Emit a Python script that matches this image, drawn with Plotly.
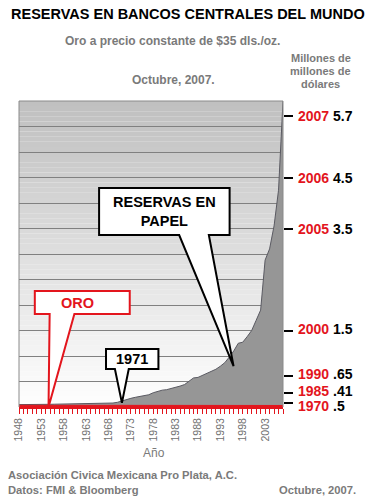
import plotly.graph_objects as go

# ---------------- data ----------------
years = list(range(1948, 2008))
reserves = [0.047, 0.046, 0.048, 0.049, 0.050, 0.051, 0.052, 0.053, 0.055, 0.056,
            0.057, 0.057, 0.059, 0.061, 0.063, 0.066, 0.068, 0.070, 0.071, 0.073,
            0.076, 0.078, 0.092, 0.12, 0.15, 0.17, 0.19, 0.21, 0.23, 0.24,
            0.28, 0.31, 0.33, 0.34, 0.36, 0.38, 0.41, 0.44, 0.51, 0.57,
            0.58, 0.62, 0.67, 0.70, 0.74, 0.80, 0.87, 0.98, 1.10, 1.25,
            1.27, 1.38, 1.50, 1.70, 1.90, 2.88, 3.10, 3.55, 4.25, 6.00]
gold = [0.034, 0.034, 0.035, 0.035, 0.035, 0.035, 0.036, 0.036, 0.036, 0.037,
        0.037, 0.037, 0.038, 0.038, 0.038, 0.038, 0.039, 0.039, 0.039, 0.039,
        0.039, 0.039, 0.037, 0.036, 0.036, 0.036, 0.036, 0.036, 0.036, 0.036,
        0.036, 0.035, 0.034, 0.034, 0.034, 0.034, 0.034, 0.034, 0.034, 0.034,
        0.034, 0.034, 0.034, 0.034, 0.034, 0.034, 0.034, 0.034, 0.034, 0.034,
        0.033, 0.033, 0.033, 0.032, 0.032, 0.031, 0.031, 0.030, 0.030, 0.030]

x_tick_labels = [str(y) for y in range(1948, 2004, 5)]

mark_years = ["2007", "2006", "2005", "2000", "1990", "1985", "1970"]
mark_values = ["5.7", "4.5", "3.5", "1.5", ".65", ".41", ".5"]
mark_pos = [5.7, 4.5, 3.5, 1.5, 0.60, 0.28, 0.08]      # tick positions (data units)
mark_label_px = [116, 178, 229, 329, 374, 391, 406]    # label centre rows (pixels)

RED = "#e3151d"
GRAY_TXT = "#7a7a7a"
FONT = "Arial, Liberation Sans, sans-serif"

W, H = 368, 503
L, R, T, B = 16, 283, 101, 407  # plot area in pixels


def px(xp):
    return (xp - L) / (R - L)


def py(yp):
    return (B - yp) / (B - T)


fig = go.Figure()

fig.add_trace(go.Scatter(
    x=years, y=reserves, mode="lines", fill="tozeroy",
    fillcolor="#969696", line=dict(color="#5a5a62", width=1),
    hoverinfo="skip", showlegend=False))
fig.add_trace(go.Scatter(
    x=years, y=gold, mode="lines", fill="tozeroy",
    fillcolor=RED, line=dict(color=RED, width=1),
    hoverinfo="skip", showlegend=False))
# invisible trace to carry the right-hand axis
fig.add_trace(go.Scatter(
    x=[years[-1]] * len(mark_pos), y=mark_pos, yaxis="y2", mode="markers",
    marker=dict(opacity=0), hoverinfo="skip", showlegend=False))

shapes = []
# background gradient (white bottom -> gray top)
n_bands = 60
ymax = 6.0
for i in range(n_bands):
    y0 = ymax * i / n_bands
    y1 = ymax * (i + 1) / n_bands
    t = (i + 0.5) / n_bands
    c = int(round(255 - t * 64))
    shapes.append(dict(type="rect", xref="paper", yref="y", x0=0, x1=1, y0=y0, y1=y1,
                       fillcolor=f"rgb({c},{c},{c})", line=dict(width=0), layer="below"))

# plot border (left, top, right)
shapes.append(dict(type="path", xref="paper", yref="paper",
                   path="M 0,0 L 0,1 L 1,1 L 1,0",
                   line=dict(color="#8a8a8a", width=1), layer="above"))


def dx(xp):
    return 1948 + (xp - L) * (2007 - 1948) / (R - L)


def dy(yp):
    return (B - yp) * ymax / (B - T)


def callout(x0p, x1p, y0p, y1p, bl, br, tip_x, tip_y, color):
    p = (f"M {dx(x0p)},{dy(y0p)} L {dx(x1p)},{dy(y0p)} L {dx(x1p)},{dy(y1p)} "
         f"L {dx(br)},{dy(y1p)} L {tip_x},{tip_y} L {dx(bl)},{dy(y1p)} "
         f"L {dx(x0p)},{dy(y1p)} Z")
    return dict(type="path", xref="x", yref="y", path=p, fillcolor="white",
                line=dict(color=color, width=2), layer="above")


# RESERVAS EN PAPEL callout
shapes.append(callout(97, 229, 188, 235, 178, 208, 1995.95, 0.80, "black"))
# ORO callout
shapes.append(callout(32, 128, 291, 314, 47, 72, 1954.6, 0.0, RED))
# 1971 callout
shapes.append(callout(104, 157, 349, 369, 113, 127, 1971, reserves[years.index(1971)] - 0.04, "black"))

annotations = []


def note(text, xp, yp, size, color, xanchor="center", bold=True, yanchor="middle"):
    t = f"<b>{text}</b>" if bold else text
    annotations.append(dict(text=t, x=px(xp), y=py(yp), xref="paper", yref="paper",
                            showarrow=False, xanchor=xanchor, yanchor=yanchor,
                            font=dict(family=FONT, size=size, color=color)))


note("RESERVAS EN BANCOS CENTRALES DEL MUNDO", 187, 14, 14.5, "black")
note("Oro a precio constante de $35 dls./oz.", 171.5, 41, 12, GRAY_TXT)
note("Octubre, 2007.", 172, 80, 12, GRAY_TXT)
note("Millones de", 321, 58, 11, GRAY_TXT)
note("millones de", 321, 71, 11, GRAY_TXT)
note("dólares", 321, 84, 11, GRAY_TXT)
note("Año", 153, 453, 12, GRAY_TXT, bold=False)
note("Asociación Civica Mexicana Pro Plata, A.C.", 3, 475, 11.2, GRAY_TXT, xanchor="left")
note("Datos: FMI &amp; Bloomberg", 3, 490, 11.2, GRAY_TXT, xanchor="left")
note("Octubre, 2007.", 359, 490, 11.2, GRAY_TXT, xanchor="right")

# right-hand labels (red year + black value)
for yr, v, ypx in zip(mark_years, mark_values, mark_label_px):
    note(f"<span style='color:{RED}'>{yr}</span> {v}", 296, ypx, 14, "black", xanchor="left")

# callout texts
annotations.append(dict(text="<b>RESERVAS EN<br>PAPEL</b>", x=(dx(97) + dx(229)) / 2,
                        y=(dy(188) + dy(235)) / 2, xref="x", yref="y", showarrow=False,
                        font=dict(family=FONT, size=14.5, color="black")))
annotations.append(dict(text="<b>ORO</b>", x=(dx(32) + dx(128)) / 2 - 1,
                        y=(dy(291) + dy(314)) / 2, xref="x", yref="y", showarrow=False,
                        font=dict(family=FONT, size=14.5, color=RED)))
annotations.append(dict(text="<b>1971</b>", x=(dx(104) + dx(157)) / 2,
                        y=(dy(349) + dy(369)) / 2, xref="x", yref="y", showarrow=False,
                        font=dict(family=FONT, size=14.5, color="black")))

fig.update_layout(
    width=W, height=H,
    margin=dict(l=L, r=W - R, t=T, b=H - B, pad=0),
    paper_bgcolor="white", plot_bgcolor="white",
    showlegend=False,
    shapes=shapes, annotations=annotations,
    xaxis=dict(range=[1948, 2007], tickmode="array",
               tickvals=[int(s) for s in x_tick_labels], ticktext=x_tick_labels,
               tickangle=-90, ticks="outside", ticklen=5, tickwidth=1, tickcolor=RED,
               minor=dict(dtick=1, tick0=1948, ticks="outside", ticklen=5, tickwidth=1,
                          tickcolor=RED, showgrid=False),
               showline=True, linecolor=RED, linewidth=2, showgrid=False, zeroline=False,
               tickfont=dict(family=FONT, size=10.5, color="#6f6f6f")),
    yaxis=dict(range=[0, ymax], dtick=0.5, tick0=0, showgrid=True, gridcolor="#808080",
               gridwidth=1, showticklabels=False, ticks="", zeroline=False, showline=False),
    yaxis2=dict(range=[0, ymax], overlaying="y", side="right", tickmode="array",
                tickvals=mark_pos, showticklabels=False, ticks="outside", ticklen=9,
                tickwidth=2, tickcolor="black", showgrid=False, zeroline=False,
                showline=False),
)

fig.write_html("out.html", config={"displayModeBar": False},
               post_script="document.body.style.margin='0';")
